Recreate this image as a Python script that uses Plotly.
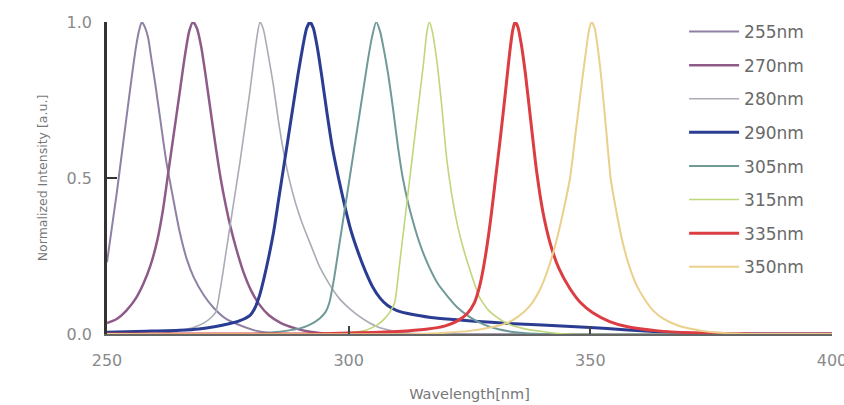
import plotly.graph_objects as go

# ---- data ----
names = ["255nm", "270nm", "280nm", "290nm", "305nm", "315nm", "335nm", "350nm"]

wl_255 = [250, 251, 252, 253, 254, 255, 256, 256.6, 257.2, 257.8, 258.5, 259.2, 260, 261, 262.3, 263.5, 265, 266.5, 268, 270, 272, 274.5, 277.5, 281, 285, 290, 400]
in_255 = [0.23, 0.34, 0.45, 0.57, 0.69, 0.81, 0.92, 0.97, 1.0, 0.985, 0.95, 0.88, 0.8, 0.69, 0.55, 0.45, 0.33, 0.24, 0.18, 0.125, 0.085, 0.05, 0.028, 0.01, 0.002, 0.0, 0.0]

wl_270 = [250, 252, 254, 256, 257.5, 259, 260.4, 261.6, 262.7, 263.8, 265, 266, 267, 267.8, 268.6, 269.5, 270.3, 271.3, 272.4, 273.5, 274.6, 275.6, 276.8, 278.2, 279.8, 281.5, 283.5, 286, 289, 292, 296, 400]
in_270 = [0.035, 0.048, 0.075, 0.115, 0.16, 0.22, 0.3, 0.4, 0.52, 0.64, 0.77, 0.88, 0.97, 1.0, 0.98, 0.92, 0.84, 0.73, 0.61, 0.5, 0.41, 0.34, 0.27, 0.2, 0.14, 0.095, 0.06, 0.035, 0.018, 0.007, 0.0, 0.0]

wl_280 = [250, 260, 263, 265.7, 268, 270, 271.5, 272.5, 273.5, 274.5, 275.5, 276.5, 277.5, 278.5, 279.5, 280.4, 281, 281.65, 282.3, 283.3, 284.4, 285.5, 286.7, 287.8, 289, 290.5, 292.3, 294, 296, 298, 300.3, 303, 305.8, 309, 313, 318, 400]
in_280 = [0.0, 0.0, 0.006, 0.013, 0.022, 0.035, 0.052, 0.07, 0.15, 0.25, 0.35, 0.45, 0.55, 0.66, 0.77, 0.88, 0.95, 1.0, 0.98, 0.9, 0.8, 0.68, 0.57, 0.49, 0.42, 0.35, 0.28, 0.215, 0.16, 0.115, 0.08, 0.048, 0.024, 0.01, 0.002, 0.0, 0.0]

wl_290 = [250, 258, 265, 269, 272.5, 275, 277.5, 279.6, 280.5, 281.5, 282.5, 283.5, 284.5, 285.5, 286.5, 287.5, 288.5, 289.5, 290.5, 291.3, 292, 292.7, 293.5, 294.4, 295.5, 296.6, 297.9, 299.2, 300.5, 302, 303.5, 305, 306.5, 308, 310, 313, 317, 321, 326, 333, 340, 350, 357, 364, 371, 378, 400]
in_290 = [0.006, 0.009, 0.012, 0.016, 0.024, 0.032, 0.043, 0.06, 0.08, 0.12, 0.18, 0.25, 0.33, 0.43, 0.53, 0.63, 0.73, 0.83, 0.92, 0.98, 1.0, 0.98, 0.92, 0.83, 0.71, 0.6, 0.5, 0.41, 0.33, 0.26, 0.2, 0.15, 0.115, 0.092, 0.075, 0.063, 0.053, 0.047, 0.041, 0.034, 0.029, 0.021, 0.014, 0.007, 0.002, 0.0, 0.0]

wl_305 = [250, 280, 284, 287, 289.9, 292, 294, 295.2, 296, 297, 298, 299, 300, 301, 302, 303, 304, 304.8, 305.7, 306.5, 307.3, 308.2, 309.2, 310.2, 311.2, 312.3, 313.5, 314.7, 316.5, 318.5, 320.5, 322.5, 325, 328, 331, 335, 340, 400]
in_305 = [0.0, 0.0, 0.005, 0.01, 0.018, 0.03, 0.05, 0.07, 0.1, 0.18, 0.28, 0.38, 0.48, 0.58, 0.68, 0.78, 0.88, 0.95, 1.0, 0.97, 0.91, 0.83, 0.72, 0.6, 0.5, 0.42, 0.35, 0.29, 0.22, 0.16, 0.12, 0.085, 0.055, 0.03, 0.015, 0.005, 0.0, 0.0]

wl_315 = [250, 295, 300, 303.7, 306, 307.5, 308.5, 309.5, 310.5, 311.5, 312.5, 313.5, 314.5, 315.5, 316.2, 316.7, 317.3, 318.2, 319.2, 320.3, 321.3, 322.5, 323.8, 325.2, 327, 328, 329, 331, 333, 336, 340, 345, 400]
in_315 = [0.0, 0.0, 0.004, 0.013, 0.03, 0.05, 0.07, 0.1, 0.22, 0.35, 0.48, 0.61, 0.74, 0.87, 0.97, 1.0, 0.97, 0.88, 0.74, 0.56, 0.45, 0.35, 0.27, 0.2, 0.12, 0.095, 0.075, 0.05, 0.032, 0.018, 0.008, 0.0, 0.0]

wl_335 = [250, 290, 300, 310, 316, 320, 322.5, 324.5, 326, 327.2, 328.3, 329.4, 330.4, 331.4, 332.4, 333.3, 333.9, 334.4, 335, 335.7, 336.6, 337.7, 338.9, 340.2, 341.7, 343.5, 345.8, 348, 350.5, 354, 357.5, 364, 371, 380, 390, 400]
in_335 = [0.0, 0.0, 0.003, 0.008, 0.015, 0.026, 0.042, 0.065, 0.1, 0.16, 0.25, 0.37, 0.5, 0.63, 0.77, 0.9, 0.97, 1.0, 0.985, 0.93, 0.83, 0.68, 0.52, 0.39, 0.29, 0.21, 0.145, 0.1, 0.068, 0.04, 0.024, 0.01, 0.004, 0.001, 0.0, 0.0]

wl_350 = [250, 315, 320, 325, 329, 332.7, 335, 337.5, 339.5, 341.3, 343, 344.5, 345.8, 347, 348.2, 349.3, 349.8, 350.3, 350.9, 351.6, 352.4, 353.3, 354.2, 355.3, 356.6, 358, 359.6, 361.3, 363, 365, 368, 371.3, 375, 380, 385, 400]
in_350 = [0.0, 0.0, 0.004, 0.01, 0.02, 0.035, 0.055, 0.09, 0.14, 0.21, 0.3, 0.4, 0.5, 0.65, 0.8, 0.93, 0.98, 1.0, 0.98, 0.91, 0.8, 0.65, 0.5, 0.4, 0.3, 0.22, 0.155, 0.11, 0.075, 0.05, 0.028, 0.015, 0.006, 0.002, 0.0, 0.0]

colors = ["#8f81a3", "#8e5a88", "#ababb6", "#2b3d93", "#6f9a98", "#bfd67a", "#db3d42", "#ebd08c"]
widths = [2, 2.5, 1.6, 3, 2, 1.6, 3, 2]

xs = [wl_255, wl_270, wl_280, wl_290, wl_305, wl_315, wl_335, wl_350]
ys = [in_255, in_270, in_280, in_290, in_305, in_315, in_335, in_350]

x_ticks = [250, 300, 350, 400]
y_ticks = [0, 0.5, 1.0]
y_tick_text = ["0.0", "0.5", "1.0"]

FONT = "DejaVu Sans"

fig = go.Figure()
for n, x, y, c, w in zip(names, xs, ys, colors, widths):
    fig.add_trace(go.Scatter(
        x=x, y=y, name=n, mode="lines", legendgroup=n,
        line=dict(color=c, width=w, shape="spline", smoothing=0.6),
    ))

fig.update_layout(
    width=844, height=405,
    margin=dict(l=107, r=12, t=22, b=71, autoexpand=False),
    paper_bgcolor="white", plot_bgcolor="white",
    font=dict(family=FONT, color="#888888"),
    showlegend=True,
    legend=dict(
        x=0.796, xanchor="left", y=0.9654, yanchor="top", yref="container",
        font=dict(family=FONT, size=17, color="#6a6a6a"),
        bgcolor="rgba(0,0,0,0)", borderwidth=0,
        tracegroupgap=8.5, itemwidth=50, maxheight=390,
    ),
    xaxis=dict(
        range=[250, 400], tickvals=x_ticks, ticks="inside", ticklen=8,
        tickwidth=1.5, tickcolor="#444444", showline=True, linecolor="#666666",
        linewidth=1.5, showgrid=False, zeroline=False, automargin=False,
        tickfont=dict(family=FONT, size=16, color="#8a8a8a"),
        ticklabelstandoff=11, ticklabeloverflow="allow",
        title=dict(text="Wavelength[nm]", font=dict(family=FONT, size=14.5, color="#777777"), standoff=20),
    ),
    yaxis=dict(
        range=[0, 1.0], tickvals=y_ticks, ticktext=y_tick_text, ticks="inside",
        ticklen=10, tickwidth=2, tickcolor="#333333", showline=True,
        linecolor="#333333", linewidth=2.5, showgrid=False, zeroline=False, automargin=False,
        tickfont=dict(family=FONT, size=16, color="#8a8a8a"),
        ticklabelstandoff=9,
        title=dict(text="Normalized Intensity [a.u.]", font=dict(family=FONT, size=12.5, color="#777777"), standoff=17),
    ),
)

fig.write_html("out.html")
